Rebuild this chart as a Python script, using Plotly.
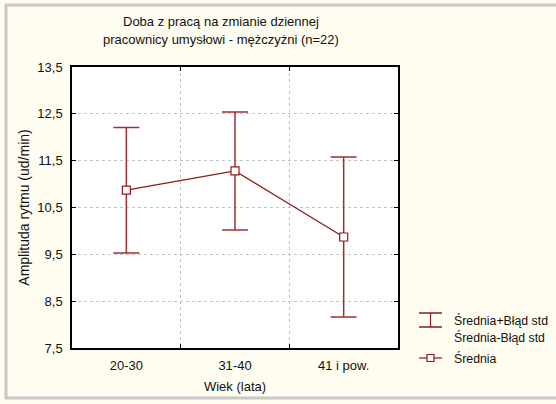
import plotly.graph_objects as go

# Age groups and mean rhythm amplitude with standard error
categories = ["20-30", "31-40", "41 i pow."]
means = [10.87, 11.28, 9.87]
std_err = [1.34, 1.26, 1.71]

y_ticks = [7.5, 8.5, 9.5, 10.5, 11.5, 12.5, 13.5]

title_lines = ["Doba z pracą na zmianie dziennej",
               "pracownicy umysłowi - mężczyżni (n=22)"]

LINE = "#8b1a1a"
ERR = "#a03030"
FONT = "Liberation Sans, Arial, sans-serif"
TXT = "#111"

# plot area in pixels
W, H = 556, 404
L, R, T, B = 72, 398, 67, 348


def px(x):
    return (x - L) / (R - L)


def py(y):
    return (B - y) / (B - T)


fig = go.Figure()
fig.add_trace(go.Scatter(
    x=categories, y=means,
    mode="lines+markers",
    line=dict(color=LINE, width=1.2),
    marker=dict(symbol="square", size=8, color="white",
                line=dict(color=LINE, width=1.2)),
    error_y=dict(type="data", array=std_err, symmetric=True,
                 color=ERR, thickness=1.5, width=13),
    showlegend=False,
))

shapes = [
    # frame around the whole figure
    dict(type="rect", xref="paper", yref="paper",
         x0=px(6), x1=px(560), y0=py(5), y1=py(398),
         line=dict(color="#c8c8c8", width=3), layer="below"),
    # legend: error-bar glyph
    dict(type="line", xref="paper", yref="paper",
         x0=px(419), x1=px(442), y0=py(313), y1=py(313),
         line=dict(color=LINE, width=1.5)),
    dict(type="line", xref="paper", yref="paper",
         x0=px(419), x1=px(442), y0=py(327), y1=py(327),
         line=dict(color=LINE, width=1.5)),
    dict(type="line", xref="paper", yref="paper",
         x0=px(430.5), x1=px(430.5), y0=py(313), y1=py(327),
         line=dict(color=LINE, width=1.2)),
    # legend: mean glyph
    dict(type="line", xref="paper", yref="paper",
         x0=px(419), x1=px(442), y0=py(358), y1=py(358),
         line=dict(color=LINE, width=1.2)),
    dict(type="rect", xref="paper", yref="paper",
         x0=px(427), x1=px(434), y0=py(354.5), y1=py(361.5),
         fillcolor="white", line=dict(color=LINE, width=1.2)),
]

annotations = [
    dict(text=title_lines[0], x=px(221), y=py(21), xref="paper",
         yref="paper", xanchor="center", yanchor="middle", showarrow=False,
         font=dict(family=FONT, size=13, color=TXT)),
    dict(text=title_lines[1], x=px(221), y=py(40), xref="paper",
         yref="paper", xanchor="center", yanchor="middle", showarrow=False,
         font=dict(family=FONT, size=13, color=TXT)),
    dict(text="Średnia+Błąd std", x=px(452), y=py(320), xref="paper",
         yref="paper", xanchor="left", yanchor="middle", showarrow=False,
         font=dict(family=FONT, size=12.3, color=TXT)),
    dict(text="Średnia-Błąd std", x=px(452), y=py(337), xref="paper",
         yref="paper", xanchor="left", yanchor="middle", showarrow=False,
         font=dict(family=FONT, size=12.3, color=TXT)),
    dict(text="Średnia", x=px(452), y=py(358), xref="paper",
         yref="paper", xanchor="left", yanchor="middle", showarrow=False,
         font=dict(family=FONT, size=12.3, color=TXT)),
]

fig.update_layout(
    width=W, height=H,
    margin=dict(l=L, r=W - R, t=T, b=H - B, pad=0),
    paper_bgcolor="#fffdf0",
    plot_bgcolor="white",
    separators=", ",
    font=dict(family=FONT, size=13, color=TXT),
    xaxis=dict(
        type="category", range=[-0.5, 2.5],
        tickson="boundaries", ticks="inside", ticklen=4, tickcolor="#000",
        showline=True, linecolor="#000", linewidth=1.5, mirror="ticks",
        showgrid=True, gridcolor="#c4c4c4", griddash="dot", gridwidth=1,
        ticklabelstandoff=5,
        title=dict(text="Wiek (lata)", standoff=10,
                   font=dict(family=FONT, size=13)),
        tickfont=dict(family=FONT, size=13),
    ),
    yaxis=dict(
        range=[7.5, 13.5], tickvals=y_ticks, tickformat=".1f",
        ticks="inside", ticklen=4, tickcolor="#000",
        showline=True, linecolor="#000", linewidth=1.5, mirror="ticks",
        showgrid=True, gridcolor="#c4c4c4", griddash="dot", gridwidth=1,
        zeroline=False,
        ticklabelstandoff=5,
        title=dict(text="Amplituda rytmu (ud/min)", standoff=4,
                   font=dict(family=FONT, size=14)),
        tickfont=dict(family=FONT, size=13),
    ),
    shapes=shapes,
    annotations=annotations,
)

fig.write_html("out.html")
